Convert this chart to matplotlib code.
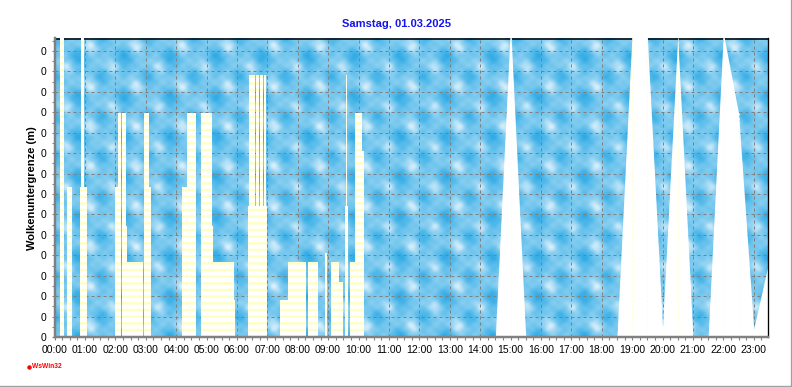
import numpy as np
import matplotlib
matplotlib.use('Agg')
import matplotlib.pyplot as plt
from matplotlib.lines import Line2D
from matplotlib.colors import LinearSegmentedColormap

# ---------------- data ----------------
title = "Samstag, 01.03.2025"
ylabel = "Wolkenuntergrenze (m)"
hour_labels = [f"{h:02d}:00" for h in range(24)]
ytick_labels = ["0"] * 15

# striped bars (hours, value in grid units)
bar_start = [0.18, 0.41, 0.84, 0.87, 1.98, 2.10, 2.21, 2.22, 2.38, 2.94, 2.94,
             4.18, 4.36, 4.82, 4.82, 5.22, 5.22, 6.37, 6.40, 6.62, 6.75, 6.89,
             7.42, 7.69, 8.35, 8.90, 9.09, 9.36, 9.55, 9.59, 9.72, 9.88, 9.98]
bar_end = [0.30, 0.59, 1.07, 0.97, 2.18, 2.19, 2.34, 2.38, 2.92, 3.11, 3.17,
           4.65, 4.65, 5.18, 5.22, 5.90, 5.94, 6.98, 6.59, 6.73, 6.87, 6.96,
           7.69, 8.26, 8.67, 8.96, 9.36, 9.48, 9.65, 9.63, 9.94, 10.11, 10.18]
bar_val = [15.0, 7.34, 7.34, 15.0, 7.34, 10.96, 10.96, 5.43, 3.67, 10.96, 7.34,
           7.34, 10.96, 10.96, 5.43, 3.67, 1.81, 6.41, 12.82, 12.82, 12.82, 12.82,
           1.81, 3.67, 3.67, 4.10, 3.67, 2.70, 6.41, 12.82, 3.67, 10.96, 9.10]

# interpolated part (half-hourly)
curve_h = [14.5, 15.0, 15.5, 18.5, 19.0, 19.5, 20.0, 20.5, 21.0, 21.5, 22.0, 22.5, 23.0, 23.5]
curve_v = [0.0, 15.3, 0.0, 0.0, 14.9, 14.7, 0.5, 14.7, 0.0, 0.0, 14.9, 10.96, 0.4, 3.7]

X_MAX = 23.47
Y_MAX = 14.64

# ---------------- figure ----------------
plt.rcParams['font.family'] = ['Liberation Sans', 'DejaVu Sans']
plt.rcParams['hatch.linewidth'] = 2.2

DPI = 80
fig = plt.figure(figsize=(792 / DPI, 387 / DPI), dpi=DPI)
ax = fig.add_axes([54.5 / 792, 50 / 387, (768 - 54.5) / 792, 299 / 387])

# sky texture background (deterministic cloud-like tile: blobs on a lattice)
H, W = 299, 714
yy, xx = np.mgrid[0:H, 0:W].astype(float)


def blobs(px, py, sig, ox=0.0, oy=0.0):
    dx = np.mod(xx - ox, px) - px / 2
    dy = np.mod(yy - oy, py) - py / 2
    return np.exp(-(dx ** 2 + dy ** 2) / (2 * sig ** 2))


dark = blobs(46, 40, 8.5) + blobs(46, 40, 7, 23, 20) * 0.8 + blobs(23, 20, 4, 11, 6) * 0.3
light = blobs(46, 40, 5, 12, 28) + blobs(46, 40, 4.5, 35, 8) * 0.9
v = 0.55 + 0.5 * light - 0.55 * dark + 0.06 * np.sin(2 * np.pi * xx / 13) * np.cos(2 * np.pi * yy / 11)
v = np.clip((v - v.min()) / (v.max() - v.min()), 0, 1)
cmap = LinearSegmentedColormap.from_list('sky', ['#2ea9e4', '#5bbdeb', '#92d2f2', '#dcf1fb'])
ax.imshow(v, cmap=cmap, extent=[0, X_MAX, 0, Y_MAX], aspect='auto',
          interpolation='bilinear', zorder=0)

ax.axhline(Y_MAX - 0.03, color='black', lw=1.4, zorder=0.8)

# white area under the interpolated curve
ax.fill_between(curve_h, 0, curve_v, color='white', lw=0, zorder=1)
for h, val in zip(curve_h, curve_v):
    if val > 1:
        ax.vlines(h, 0, min(val, Y_MAX), color='#ffffc0', lw=0.8,
                  linestyles=(0, (2, 3)), zorder=1.5)

# striped bars
widths = [e - s for s, e in zip(bar_start, bar_end)]
ax.bar(bar_start, bar_val, width=widths, align='edge', color='white',
       edgecolor='#ffffc4', linewidth=0, hatch='--', zorder=2)

ax.set_xlim(0, X_MAX)
ax.set_ylim(0, Y_MAX)
ax.set_xticks(range(24))
ax.set_xticklabels(hour_labels)
ax.set_xticks(np.arange(0, X_MAX, 0.25), minor=True)
ax.set_yticks(range(15))
ax.set_yticklabels(ytick_labels)
ax.set_yticks(np.arange(0.5, Y_MAX, 0.5), minor=True)
ax.tick_params(which='both', colors='#808080', labelcolor='black',
               labelsize=9.4, length=3, width=1, pad=4)
ax.grid(True, which='major', color='#808080', linestyle=(0, (3, 3)), linewidth=0.9)
ax.set_axisbelow(True)

ax.spines['top'].set_visible(False)
ax.spines['right'].set_color('black')
ax.spines['right'].set_linewidth(1.2)
for s in ('left', 'bottom'):
    ax.spines[s].set_color('#808080')
    ax.spines[s].set_linewidth(2.2)

fig.text(0.5, 1 - 24 / 387, title, ha='center', va='center', color='#1414f0',
         fontsize=10, fontweight='bold')
fig.text(32 / 792, 1 - 188 / 387, ylabel, rotation=90, ha='center', va='center',
         fontsize=10, fontweight='bold')
fig.text(32 / 792, 1 - 367 / 387, 'WsWin32', color='red', fontsize=6,
         fontweight='bold', ha='left', va='center')
fig.add_artist(Line2D([28.5 / 792], [1 - 366.5 / 387], marker='o', ms=3,
                      color='red', transform=fig.transFigure))
fig.add_artist(Line2D([790.5 / 792] * 2, [1.5 / 387, 1], color='#a0a0a0', lw=1.2,
                      transform=fig.transFigure))
fig.add_artist(Line2D([0, 790.5 / 792], [1.5 / 387] * 2, color='#a0a0a0', lw=1.2,
                      transform=fig.transFigure))

fig.savefig('out.png', dpi=DPI)
